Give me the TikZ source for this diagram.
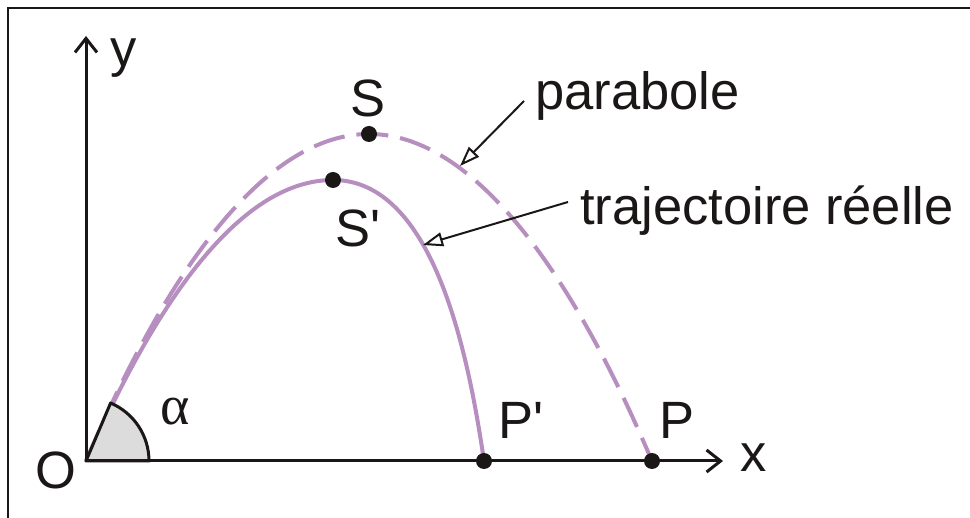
\documentclass[tikz,border=0pt]{standalone}
\usepackage{fontspec}
\newfontfamily\lab{Liberation Sans}
\newfontfamily\symf{Liberation Serif}
\usetikzlibrary{arrows.meta}
\definecolor{traj}{RGB}{183,142,192}
\definecolor{ink}{RGB}{26,23,22}
\definecolor{wedgegray}{RGB}{220,220,220}
\begin{document}
\begin{tikzpicture}[x=1pt,y=-1pt,
 lbl/.style={font=\lab\fontsize{52.5}{60}\selectfont, text=ink, inner sep=0pt},
 greek/.style={font=\symf\fontsize{56}{60}\selectfont, text=ink, inner sep=0pt},
 pt/.style={circle, fill=ink, minimum size=16pt, inner sep=0pt},
 axis/.style={line width=3pt, draw=ink, -{Straight Barb[length=14pt,width=22pt,line width=3pt]}},
 curve/.style={line width=4pt, draw=traj},
 callout/.style={line width=2pt, draw=ink, -{Triangle[open,length=20pt,width=14pt,line width=2pt]}}]
\useasboundingbox (0,0) rectangle (970,518);
\fill[white] (0,0) rectangle (970,518);
\draw[line width=2pt, ink] (8,518) -- (8,8) -- (970,8);
\coordinate (O) at (86,461);
\coordinate (yend) at (86,36);
\coordinate (xend) at (723,461);
% curves
\draw[curve, dash pattern=on 32pt off 12pt] (O) parabola bend (369,134) (652,461);
\draw[curve] (O) .. controls (135,351) and (223,180) .. (333,180)
  .. controls (433,180) and (468,352) .. (484,461);
% angle wedge
\filldraw[fill=wedgegray, draw=ink, line width=3pt, line join=round]
  (O) -- ++(63,0) arc[start angle=0,end angle=-67,radius=63] -- cycle;
% axes
\draw[axis] (O) -- (yend);
\draw[axis] (O) -- (xend);
% points
\node[pt] (S) at (369,134) {};
\node[pt] (Sp) at (333,180) {};
\node[pt] (Pp) at (484,461) {};
\node[pt] (P) at (652,461) {};
% labels
\node[lbl, anchor=base] (Slbl) at (368,117) {S};
\node[lbl, anchor=base west] (Splbl) at (335,247) {S'};
\node[lbl, anchor=base west] (Pplbl) at (498,439) {P'};
\node[lbl, anchor=base west] (Plbl) at (659,439) {P};
\node[lbl, anchor=base west] (ylbl) at (110,67) {y};
\node[lbl, anchor=base west] (xlbl) at (740,472) {x};
\node[lbl, anchor=base west] (Olbl) at (35,489) {O};
\node[greek, anchor=base west] (alpha) at (160,425) {α};
\node[lbl, anchor=base west] (parab) at (535,110) {parabole};
\node[lbl, anchor=base west] (trajl) at (580,225) {trajectoire réelle};
% callouts
\coordinate (c1s) at (524,101);
\coordinate (c1e) at (460,166);
\coordinate (c2s) at (568,202);
\coordinate (c2e) at (423,245);
\draw[callout] (c1s) -- (c1e);
\draw[callout] (c2s) -- (c2e);
\end{tikzpicture}
\end{document}
